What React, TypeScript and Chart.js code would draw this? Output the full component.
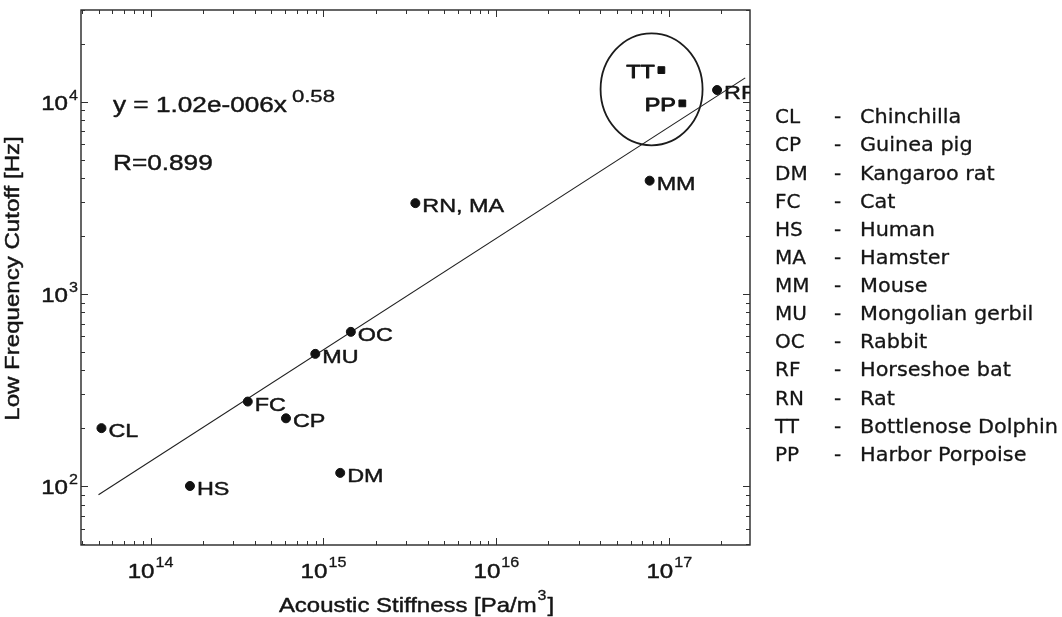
import React, { useEffect, useRef } from 'react';
import { Chart, registerables } from 'chart.js';

Chart.register(...registerables);

// ---- data ----
const mammalCodes = ['CL', 'HS', 'FC', 'CP', 'MU', 'OC', 'DM', 'RN, MA', 'MM', 'RF'];
const mammalStiffness = [5.2e13, 1.69e14, 3.65e14, 6.07e14, 8.97e14, 1.44e15, 1.25e15, 3.4e15, 7.7e16, 1.89e17];
const mammalCutoff = [200, 100, 275, 225, 487, 634, 117, 2965, 3880, 11500];

const cetaceanCodes = ['TT', 'PP'];
const cetaceanStiffness = [9.0e16, 1.19e17];
const cetaceanCutoff = [14600, 9800];

const fitStiffness = [5e13, 2.75e17];
const fitCutoff = [90, 13300];

const highlightStiffness = 7.9e16;
const highlightCutoff = 1.16e4;

const xTickExponents = [14, 15, 16, 17];
const yTickExponents = [2, 3, 4];

const equationText = 'y = 1.02e-006x';
const equationExponent = '0.58';
const correlationText = 'R=0.899';

const xTitleMain = 'Acoustic Stiffness [Pa/m';
const xTitleSup = '3';
const xTitleEnd = ']';
const yTitle = 'Low Frequency Cutoff [Hz]';

const legendCodes = ['CL', 'CP', 'DM', 'FC', 'HS', 'MA', 'MM', 'MU', 'OC', 'RF', 'RN', 'TT', 'PP'];
const legendNames = [
  'Chinchilla', 'Guinea pig', 'Kangaroo rat', 'Cat', 'Human', 'Hamster', 'Mouse',
  'Mongolian gerbil', 'Rabbit', 'Horseshoe bat', 'Rat', 'Bottlenose Dolphin', 'Harbor Porpoise',
];

const X_MIN = 3.96e13;
const X_MAX = 2.93e17;
const Y_MIN = 49.3;
const Y_MAX = 3.0e4;

const INK = '#151515';
const SANS = '"Liberation Sans", Arial, sans-serif';
const LEGEND_FONT = '"DejaVu Sans", sans-serif';

function drawText(
  ctx: CanvasRenderingContext2D,
  s: string,
  x: number,
  y: number,
  font: string,
  sx = 1,
  align: 'left' | 'right' | 'center' = 'left',
  weight = 0.45,
): number {
  ctx.save();
  ctx.font = font;
  const w = ctx.measureText(s).width * sx;
  const left = align === 'left' ? x : align === 'right' ? x - w : x - w / 2;
  ctx.translate(left, y);
  ctx.scale(sx, 1);
  ctx.textAlign = 'left';
  ctx.textBaseline = 'alphabetic';
  ctx.fillStyle = INK;
  ctx.fillText(s, 0, 0);
  if (weight > 0) {
    ctx.strokeStyle = INK;
    ctx.lineWidth = weight;
    ctx.lineJoin = 'round';
    ctx.strokeText(s, 0, 0);
  }
  ctx.restore();
  return w;
}

function measure(ctx: CanvasRenderingContext2D, s: string, font: string, sx = 1) {
  ctx.save();
  ctx.font = font;
  const w = ctx.measureText(s).width * sx;
  ctx.restore();
  return w;
}

const decorPlugin = {
  id: 'decor',
  afterDraw(chart: any) {
    const ctx: CanvasRenderingContext2D = chart.ctx;
    const xs = chart.scales.x;
    const ys = chart.scales.y;
    const a = chart.chartArea;

    ctx.save();
    // frame
    ctx.strokeStyle = '#262626';
    ctx.lineWidth = 1.4;
    ctx.strokeRect(a.left, a.top, a.right - a.left, a.bottom - a.top);

    // ticks (inward, all four sides)
    ctx.lineWidth = 1;
    ctx.strokeStyle = '#303030';
    ctx.beginPath();
    for (let k = 13; k <= 18; k++) {
      for (let m = 1; m <= 9; m++) {
        const v = m * Math.pow(10, k);
        if (v < X_MIN || v > X_MAX) continue;
        const px = Math.round(xs.getPixelForValue(v)) + 0.5;
        const len = m === 1 ? 7 : 4;
        ctx.moveTo(px, a.bottom);
        ctx.lineTo(px, a.bottom - len);
        ctx.moveTo(px, a.top);
        ctx.lineTo(px, a.top + len);
      }
    }
    for (let k = 1; k <= 5; k++) {
      for (let m = 1; m <= 9; m++) {
        const v = m * Math.pow(10, k);
        if (v < Y_MIN || v > Y_MAX) continue;
        const py = Math.round(ys.getPixelForValue(v)) + 0.5;
        const len = m === 1 ? 7 : 4;
        ctx.moveTo(a.left, py);
        ctx.lineTo(a.left + len, py);
        ctx.moveTo(a.right, py);
        ctx.lineTo(a.right - len, py);
      }
    }
    ctx.stroke();

    // tick labels
    const baseFont = `21px ${SANS}`;
    const expFont = `14px ${SANS}`;
    const tsx = 1.15;
    xTickExponents.forEach((e) => {
      const px = xs.getPixelForValue(Math.pow(10, e));
      const w1 = measure(ctx, '10', baseFont, tsx);
      const w2 = measure(ctx, String(e), expFont, tsx);
      const total = w1 + 1 + w2;
      const left = px - total / 2;
      drawText(ctx, '10', left, 578, baseFont, tsx);
      drawText(ctx, String(e), left + w1 + 1, 567, expFont, tsx, 'left', 0.3);
    });
    yTickExponents.forEach((e) => {
      const py = ys.getPixelForValue(Math.pow(10, e));
      const w1 = measure(ctx, '10', baseFont, tsx);
      const w2 = measure(ctx, String(e), expFont, tsx);
      const right = a.left - 3;
      const left = right - (w1 + 1 + w2);
      drawText(ctx, '10', left, py + 8, baseFont, tsx);
      drawText(ctx, String(e), left + w1 + 1, py - 2, expFont, tsx, 'left', 0.3);
    });

    // axis titles
    const titleFont = `21px ${SANS}`;
    const titleSx = 1.14;
    const wMain = measure(ctx, xTitleMain, titleFont, titleSx);
    const wSup = measure(ctx, xTitleSup, `14px ${SANS}`, titleSx);
    const wEnd = measure(ctx, xTitleEnd, titleFont, titleSx);
    const xTitleLeft = (a.left + a.right) / 2 - (wMain + wSup + wEnd) / 2;
    drawText(ctx, xTitleMain, xTitleLeft, 612, titleFont, titleSx);
    drawText(ctx, xTitleSup, xTitleLeft + wMain + 1, 600, `14px ${SANS}`, titleSx, 'left', 0.3);
    drawText(ctx, xTitleEnd, xTitleLeft + wMain + wSup + 2, 612, titleFont, titleSx);

    ctx.save();
    ctx.translate(18.5, (a.top + a.bottom) / 2 + 1);
    ctx.rotate(-Math.PI / 2);
    drawText(ctx, yTitle, 0, 0, titleFont, 1.146, 'center');
    ctx.restore();

    // equation and correlation
    const eqFont = `22px ${SANS}`;
    const wEq = drawText(ctx, equationText, 113, 112, eqFont, 1.19);
    drawText(ctx, equationExponent, 113 + wEq + 5, 101.5, `17px ${SANS}`, 1.3, 'left', 0.35);
    drawText(ctx, correlationText, 113, 170, eqFont, 1.19);

    // point labels (clipped to plot area)
    ctx.save();
    ctx.beginPath();
    ctx.rect(a.left, a.top, a.right - a.left, a.bottom - a.top);
    ctx.clip();
    const labelFont = `19px ${SANS}`;
    mammalCodes.forEach((c, i) => {
      const px = xs.getPixelForValue(mammalStiffness[i]);
      const py = ys.getPixelForValue(mammalCutoff[i]);
      drawText(ctx, c, px + 7, py + 9, labelFont, 1.23);
    });
    cetaceanCodes.forEach((c, i) => {
      const px = xs.getPixelForValue(cetaceanStiffness[i]);
      const py = ys.getPixelForValue(cetaceanCutoff[i]);
      drawText(ctx, c, px - 6.5, py + 7.5, labelFont, 1.23, 'right', 0.9);
    });

    // highlight ring
    const hx = xs.getPixelForValue(highlightStiffness);
    const hy = ys.getPixelForValue(highlightCutoff);
    ctx.beginPath();
    ctx.ellipse(hx, hy, 51, 56, 0, 0, Math.PI * 2);
    ctx.lineWidth = 1.8;
    ctx.strokeStyle = '#1c1c1c';
    ctx.stroke();
    ctx.restore();

    // legend (abbreviation list)
    const lf = `20px ${LEGEND_FONT}`;
    legendCodes.forEach((c, i) => {
      const y = 123.3 + i * 28.12;
      drawText(ctx, c, 775, y, lf, 1.0, 'left', 0.3);
      drawText(ctx, '-', 834, y, lf, 1.0, 'left', 0.3);
      drawText(ctx, legendNames[i], 860, y, lf, 1.04, 'left', 0.3);
    });

    ctx.restore();
  },
};

export default function App() {
  const canvasRef = useRef<HTMLCanvasElement | null>(null);

  useEffect(() => {
    document.body.style.margin = '0';
    const canvas = canvasRef.current;
    if (!canvas) return;

    const chart = new Chart(canvas, {
      type: 'scatter',
      data: {
        datasets: [
          {
            type: 'line',
            label: 'fit',
            data: fitStiffness.map((x, i) => ({ x, y: fitCutoff[i] })),
            borderColor: '#202020',
            borderWidth: 1.1,
            pointRadius: 0,
            fill: false,
            order: 3,
          } as any,
          {
            label: 'mammals',
            data: mammalStiffness.map((x, i) => ({ x, y: mammalCutoff[i] })),
            backgroundColor: '#111',
            borderColor: '#111',
            pointRadius: 4.5,
            pointStyle: 'circle',
            order: 1,
          },
          {
            label: 'cetaceans',
            data: cetaceanStiffness.map((x, i) => ({ x, y: cetaceanCutoff[i] })),
            backgroundColor: '#111',
            borderColor: '#111',
            pointRadius: 4.8,
            pointStyle: 'rect',
            order: 1,
          },
        ],
      },
      options: {
        animation: false,
        responsive: false,
        devicePixelRatio: 1,
        layout: { padding: { left: 81, top: 10, right: 312, bottom: 72 } },
        plugins: {
          legend: { display: false },
          tooltip: { enabled: false },
        },
        scales: {
          x: { type: 'logarithmic', min: X_MIN, max: X_MAX, display: false },
          y: { type: 'logarithmic', min: Y_MIN, max: Y_MAX, display: false },
        },
      },
      plugins: [decorPlugin],
    });

    return () => chart.destroy();
  }, []);

  return (
    <div style={{ width: 1062, height: 617, background: '#fff' }}>
      <canvas ref={canvasRef} width={1062} height={617} style={{ display: 'block' }} />
    </div>
  );
}
